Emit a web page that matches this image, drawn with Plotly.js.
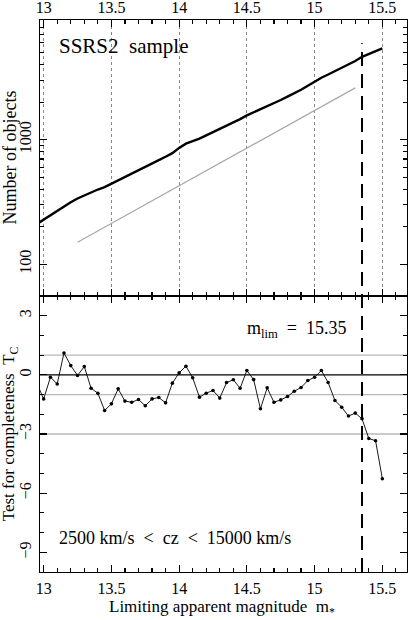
<!DOCTYPE html>
<html>
<head>
<meta charset="utf-8">
<script src="https://cdn.plot.ly/plotly-3.0.1.min.js"></script>
<style>
  html, body { margin: 0; padding: 0; background: #fff; }
  #chart { width: 409px; height: 620px; }
</style>
</head>
<body>
<div id="chart"></div>
<script>
// limiting magnitudes (step 0.05)
const mags = [12.95, 13.00, 13.05, 13.10, 13.15, 13.20, 13.25, 13.30, 13.35, 13.40,
  13.45, 13.50, 13.55, 13.60, 13.65, 13.70, 13.75, 13.80, 13.85, 13.90,
  13.95, 14.00, 14.05, 14.10, 14.15, 14.20, 14.25, 14.30, 14.35, 14.40,
  14.45, 14.50, 14.55, 14.60, 14.65, 14.70, 14.75, 14.80, 14.85, 14.90,
  14.95, 15.00, 15.05, 15.10, 15.15, 15.20, 15.25, 15.30, 15.35, 15.40,
  15.45, 15.50];

// cumulative number of objects
const counts = [210, 228, 248, 265, 292, 314, 337, 357, 374, 398,
  416, 442, 476, 503, 533, 565, 602, 644, 686, 730,
  780, 860, 930, 975, 1020, 1085, 1150, 1225, 1295, 1380,
  1465, 1570, 1660, 1746, 1850, 1960, 2085, 2220, 2360, 2520,
  2710, 2930, 3150, 3340, 3550, 3760, 4010, 4290, 4634, 4900,
  5150, 5420];

// completeness test Tc
const tcValues = [-0.43, -1.22, -0.12, -0.46, 1.11, 0.47, -0.03, 0.42, -0.68, -0.93,
  -1.81, -1.47, -0.71, -1.33, -1.39, -1.25, -1.57, -1.22, -1.15, -1.42,
  -0.42, 0.10, 0.44, -0.15, -1.13, -0.93, -0.79, -1.18, -0.39, -0.25,
  -0.68, 0.22, -0.24, -1.72, -0.66, -1.39, -1.27, -1.10, -0.83, -0.64,
  -0.29, -0.12, 0.22, -0.39, -1.30, -1.64, -2.09, -1.94, -2.23, -3.23,
  -3.34, -5.27];

// euclidean slope reference line
const euclidMags = [13.25, 15.30];
const euclidCounts = [150, 2610];

const mLim = 15.35;
const bandLevels = [1, -1, -3];
const zeroLevel = 0;

const magTicks = [13, 13.5, 14, 14.5, 15, 15.5];
const magLabels = ["13", "13.5", "14", "14.5", "15", "15.5"];
const countTicks = [100, 1000];
const countLabels = ["100", "1000"];
const countMinor = [200, 300, 400, 500, 600, 700, 800, 900, 2000, 3000, 4000, 5000, 6000, 7000, 8000, 9000];
const tcTicks = [3, 0, -3, -6, -9];
const tcLabels = ["3", "0", "\u22123", "\u22126", "\u22129"];

const FONT = "Liberation Serif, Times New Roman, serif";
const TICK = "#000";
const xRange = [12.973, 15.682];

const traces = [
  {
    x: mags, y: counts, xaxis: "x2", yaxis: "y",
    mode: "lines", type: "scatter",
    line: { color: "#000", width: 2.4 },
    hoverinfo: "skip"
  },
  {
    x: euclidMags, y: euclidCounts, xaxis: "x2", yaxis: "y",
    mode: "lines", type: "scatter",
    line: { color: "#aaa", width: 1.3 },
    hoverinfo: "skip"
  },
  {
    x: mags, y: tcValues, xaxis: "x", yaxis: "y2",
    mode: "lines+markers", type: "scatter",
    line: { color: "#000", width: 0.9 },
    marker: { color: "#000", size: 3.6 },
    hoverinfo: "skip"
  }
];

// horizontal reference levels in lower panel
const shapes = bandLevels.map(v => ({
  type: "line", xref: "x domain", yref: "y2",
  x0: 0, x1: 1, y0: v, y1: v,
  line: { color: "#b8b8b8", width: 1.3 },
  layer: "below"
}));
shapes.push({
  type: "line", xref: "x domain", yref: "y2",
  x0: 0, x1: 1, y0: zeroLevel, y1: zeroLevel,
  line: { color: "#000", width: 1.4 }
});
// m_lim dashed line through both panels
shapes.push({
  type: "line", xref: "x", yref: "paper",
  x0: mLim, x1: mLim, y0: 0, y1: 0.958,
  line: { color: "#000", width: 2, dash: "14px,8px" }
});

const axisCommon = {
  showline: true, linecolor: "#000", linewidth: 1,
  mirror: "ticks", ticks: "inside", ticklen: 7, tickcolor: TICK, tickwidth: 1.2,
  zeroline: false,
  tickfont: { family: FONT, size: 16, color: "#000" }
};

const magMinor = { tickmode: "linear", dtick: 0.1, tick0: 13, ticks: "inside", ticklen: 4, tickcolor: TICK, tickwidth: 1.2, showgrid: false };

const layout = {
  width: 409, height: 620,
  margin: { l: 40, r: 2, t: 20, b: 48 },
  paper_bgcolor: "#fff", plot_bgcolor: "#fff",
  showlegend: false,
  font: { family: FONT, color: "#000" },
  xaxis: Object.assign({}, axisCommon, {
    anchor: "y2", domain: [0, 1], range: xRange,
    tickmode: "array", tickvals: magTicks, ticktext: magLabels,
    minor: magMinor, ticklabelstandoff: 2,
    showgrid: false
  }),
  xaxis2: Object.assign({}, axisCommon, {
    anchor: "y", side: "top", domain: [0, 1], range: xRange,
    tickmode: "array", tickvals: magTicks, ticktext: magLabels,
    minor: magMinor,
    showgrid: true, gridcolor: "#888", griddash: "dot", gridwidth: 1
  }),
  yaxis: Object.assign({}, axisCommon, {
    anchor: "x2", domain: [0.5, 1], type: "log", range: [1.744, 3.962],
    tickmode: "array", tickvals: countTicks, ticktext: countLabels, tickangle: -90,
    minor: { tickmode: "array", tickvals: countMinor, ticks: "inside", ticklen: 4, tickcolor: TICK, tickwidth: 1.2, showgrid: false },
    ticklabelstandoff: 2, showgrid: false
  }),
  yaxis2: Object.assign({}, axisCommon, {
    anchor: "x", domain: [0, 0.5], range: [-10, 4],
    tickmode: "array", tickvals: tcTicks, ticktext: tcLabels, tickangle: -90,
    minor: { tickmode: "linear", dtick: 1, tick0: 0, ticks: "inside", ticklen: 4, tickcolor: TICK, tickwidth: 1.2, showgrid: false },
    ticklabelstandoff: 2, showgrid: false
  }),
  shapes: shapes,
  annotations: [
    {
      text: "Limiting apparent magnitude&nbsp;&nbsp;m<sub>*</sub>", xref: "paper", yref: "paper",
      x: 0.495, y: -0.066, xanchor: "center", yanchor: "middle", showarrow: false,
      font: { family: FONT, size: 17, color: "#000" }
    },
    {
      text: "Number of objects", xref: "paper", yref: "paper",
      x: -0.083, y: 0.75, xanchor: "center", yanchor: "middle", textangle: -90, showarrow: false,
      font: { family: FONT, size: 18, color: "#000" }
    },
    {
      text: "Test for completeness&nbsp;&nbsp;T<sub>C</sub>", xref: "paper", yref: "paper",
      x: -0.081, y: 0.25, xanchor: "center", yanchor: "middle", textangle: -90, showarrow: false,
      font: { family: FONT, size: 17, color: "#000" }
    },
    {
      text: "SSRS2&nbsp;&nbsp;sample", xref: "paper", yref: "paper",
      x: 0.046, y: 0.953, xanchor: "left", yanchor: "middle", showarrow: false,
      font: { family: FONT, size: 21, color: "#000" }
    },
    {
      text: "m<sub>lim</sub>&nbsp;&nbsp;=&nbsp;&nbsp;15.35", xref: "paper", yref: "paper",
      x: 0.839, y: 0.44, xanchor: "right", yanchor: "middle", showarrow: false,
      font: { family: FONT, size: 18, color: "#000" }
    },
    {
      text: "2500 km/s&nbsp;&nbsp;&lt;&nbsp;&nbsp;cz&nbsp;&nbsp;&lt;&nbsp;&nbsp;15000 km/s", xref: "paper", yref: "paper",
      x: 0.046, y: 0.061, xanchor: "left", yanchor: "middle", showarrow: false,
      font: { family: FONT, size: 18, color: "#000" }
    }
  ]
};

Plotly.newPlot("chart", traces, layout, { displayModeBar: false, staticPlot: true });
</script>
</body>
</html>
